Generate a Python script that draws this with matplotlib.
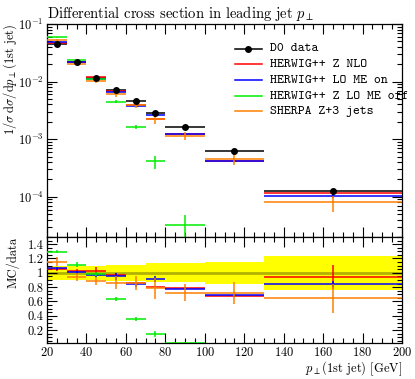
import numpy as np
import matplotlib
matplotlib.use("Agg")
import matplotlib.pyplot as plt
from matplotlib.ticker import MultipleLocator, LogLocator, FuncFormatter, NullFormatter

plt.rcParams['mathtext.fontset'] = 'cm'
plt.rcParams['font.family'] = ['cmr10', 'DejaVu Serif']
plt.rcParams['axes.unicode_minus'] = False
plt.rcParams['axes.formatter.use_mathtext'] = True

# ---- data ----
bin_edges = [20, 30, 40, 50, 60, 70, 80, 100, 130, 200]
data_vals = [0.045, 0.0215, 0.0115, 0.00705, 0.00455, 0.00283, 0.0016, 6.2e-4, 1.24e-4]
data_relerr = [0.10, 0.10, 0.10, 0.11, 0.11, 0.135, 0.135, 0.155, 0.235]

red_vals = [0.0471, 0.02215, 0.01182, 0.00685, 0.00391, 0.00228, 0.00125, 4.19e-4, 1.166e-4]
red_relerr = [0.02, 0.02, 0.05, 0.02, 0.02, 0.02, 0.03, 0.03, 0.18]
blue_vals = [0.0480, 0.02172, 0.01112, 0.00672, 0.00382, 0.00258, 0.001246, 4.25e-4, 1.048e-4]
blue_relerr = [0.02, 0.02, 0.02, 0.05, 0.04, 0.05, 0.03, 0.03, 0.05]
green_vals = [0.0583, 0.02393, 0.01127, 0.00447, 0.00160, 0.000410, 3.2e-5, np.nan, np.nan]
green_relerr = [0.02, 0.03, 0.03, 0.05, 0.08, 0.25, 0.5, np.nan, np.nan]
orange_vals = [0.0520, 0.02021, 0.0102, 0.00609, 0.00391, 0.00222, 0.001157, 4.48e-4, 7.97e-5]
orange_relerr = [0.056, 0.064, 0.068, 0.10, 0.116, 0.19, 0.166, 0.21, 0.31]

labels = ['D0 data', 'HERWIG++ Z NLO', 'HERWIG++ LO ME on',
          'HERWIG++ Z LO ME off', 'SHERPA Z+3 jets']
colors = ['black', '#ff0000', '#0000ff', '#00ee00', '#ff7f00']

edges = np.array(bin_edges, float)
lo, hi = edges[:-1], edges[1:]
xc = 0.5 * (lo + hi)
data = np.array(data_vals)
derr = data * np.array(data_relerr)

W, H = 415, 379
fig = plt.figure(figsize=(W / 100, H / 100), dpi=100)
ax1 = fig.add_axes([47 / W, 1 - 237 / H, 355 / W, (237 - 24) / H])
ax2 = fig.add_axes([47 / W, 1 - 343 / H, 355 / W, (343 - 237) / H])

series = [(red_vals, red_relerr, colors[1]),
          (blue_vals, blue_relerr, colors[2]),
          (green_vals, green_relerr, colors[3]),
          (orange_vals, orange_relerr, colors[4])]

LW = 1.1
# upper panel
ax1.hlines(data, lo, hi, color='black', lw=LW, zorder=3)
for vals, rel, c in series:
    v = np.array(vals)
    e = v * np.array(rel)
    m = ~np.isnan(v)
    ax1.hlines(v[m], lo[m], hi[m], color=c, lw=LW, zorder=4)
    ax1.vlines(xc[m], (v - e)[m], (v + e)[m], color=c, lw=LW, zorder=4)
ax1.vlines(xc, data - derr * 0.5, data + derr * 0.5, color='black', lw=LW, zorder=5)
ax1.plot(xc, data, 'o', color='black', ms=4, zorder=6)

ax1.set_yscale('log')
ax1.set_xlim(20, 200)
ax1.set_ylim(2e-5, 1e-1)
ax1.xaxis.set_major_locator(MultipleLocator(20))
ax1.xaxis.set_minor_locator(MultipleLocator(5))
ax1.yaxis.set_major_locator(LogLocator(base=10, numticks=10))
ax1.yaxis.set_minor_locator(LogLocator(base=10, subs=np.arange(2, 10), numticks=10))
ax1.yaxis.set_minor_formatter(NullFormatter())
ax1.tick_params(labelbottom=False)
ax1.set_ylabel(r'$1/\sigma\;\mathrm{d}\sigma/\mathrm{d}p_\perp$(1st jet)', loc='top', fontsize=9)
ax1.yaxis.set_label_coords(-0.078, 1.0)
ax1.set_title(r'Differential cross section in leading jet $p_\perp$', loc='left',
              fontsize=10.5, pad=4)

# legend (manual)
ys = [0.883, 0.810, 0.735, 0.661, 0.590]
x0, x1, xt = (235 - 47) / 355, (262 - 47) / 355, (270 - 47) / 355
for y, lab, c in zip(ys, labels, colors):
    ax1.plot([x0, x1], [y, y], color=c, lw=LW, transform=ax1.transAxes, clip_on=False)
    ax1.text(xt, y, lab, transform=ax1.transAxes, va='center', ha='left',
             family=['cmtt10', 'DejaVu Sans Mono'], fontsize=9.5, clip_on=False)
ax1.plot([(x0 + x1) / 2], [ys[0]], 'o', color='black', ms=4, transform=ax1.transAxes)

# lower panel
ax2.stairs(1 + np.array(data_relerr), edges, baseline=1 - np.array(data_relerr),
           fill=True, color='#ffff00', lw=0, zorder=1)
ax2.axhline(1.0, color='black', alpha=0.3, lw=2, zorder=2)
for vals, rel, c in series:
    v = np.array(vals)
    r = v / data
    e = r * np.array(rel)
    m = ~np.isnan(v)
    ax2.hlines(r[m], lo[m], hi[m], color=c, lw=LW, zorder=4)
    ax2.vlines(xc[m], (r - e)[m], (r + e)[m], color=c, lw=LW, zorder=4)

ax2.set_xlim(20, 200)
ax2.set_ylim(0.02, 1.5)
ax2.xaxis.set_major_locator(MultipleLocator(20))
ax2.xaxis.set_minor_locator(MultipleLocator(5))
ax2.yaxis.set_major_locator(MultipleLocator(0.2))
ax2.yaxis.set_minor_locator(MultipleLocator(0.05))
ax2.yaxis.set_major_formatter(FuncFormatter(lambda v, p: '%g' % round(v, 2)))
ax2.set_ylabel('MC/data', loc='top', fontsize=9)
ax2.yaxis.set_label_coords(-0.078, 1.0)
ax2.set_xlabel(r'$p_\perp$(1st jet) [GeV]', loc='right', fontsize=9, labelpad=0)

for ax in (ax1, ax2):
    ax.tick_params(which='both', direction='in', top=True, right=True, labelsize=9, pad=2.5)
    ax.tick_params(which='major', length=7, width=0.8)
    ax.tick_params(which='minor', length=3.5, width=0.8)
    for s in ax.spines.values():
        s.set_linewidth(0.9)

fig.savefig('out.png', dpi=100)
